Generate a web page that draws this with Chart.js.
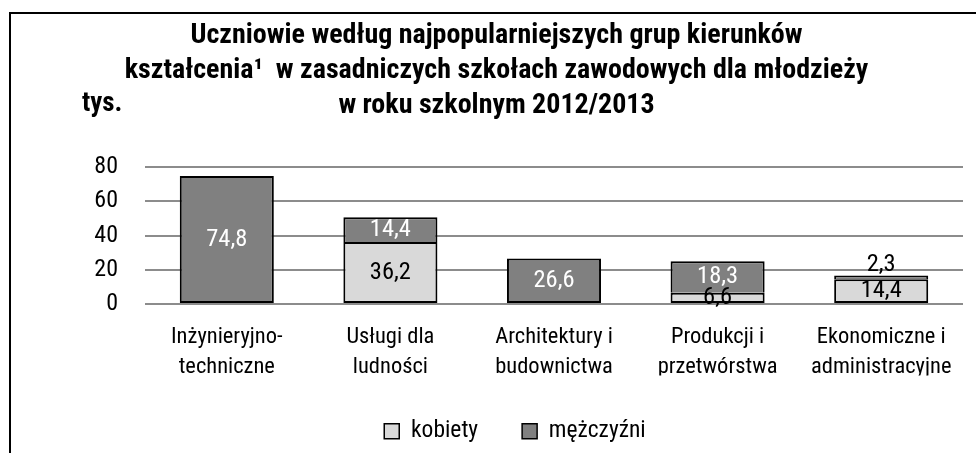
<!DOCTYPE html>
<html>
<head>
<meta charset="utf-8">
<script src="https://cdn.jsdelivr.net/npm/chart.js@4/dist/chart.umd.min.js"></script>
<style>
  body { margin: 0; background: #fff; }
  #wrap { position: relative; width: 976px; height: 453px; overflow: hidden; }
  #frame { position: absolute; left: 9px; top: 12px; width: 1000px; height: 500px; border: 2px solid #000; pointer-events: none; }
  canvas { position: absolute; left: 0; top: 0; }
</style>
</head>
<body>
<div id="wrap">
  <canvas id="c" width="976" height="453"></canvas>
  <div id="frame"></div>
</div>
<script>
// dane (tys.)
const categories = [
  ['Inżynieryjno-', 'techniczne'],
  ['Usługi dla', 'ludności'],
  ['Architektury i', 'budownictwa'],
  ['Produkcji i', 'przetwórstwa'],
  ['Ekonomiczne i', 'administracyjne']
];
const kobiety = [null, 36.2, null, 6.6, 14.4];
const mezczyzni = [74.8, 14.4, 26.6, 18.3, 2.3];
const yTicks = [0, 20, 40, 60, 80];

const FONT = "'Liberation Sans Narrow', 'Arial Narrow', 'Roboto Condensed', sans-serif";

// etykiety danych na słupkach
const valueLabels = {
  id: 'valueLabels',
  afterDatasetsDraw(chart) {
    const ctx = chart.ctx;
    ctx.save();
    ctx.font = '24.5px ' + FONT;
    ctx.textAlign = 'center';
    ctx.textBaseline = 'middle';
    chart.data.datasets.forEach((ds, i) => {
      const meta = chart.getDatasetMeta(i);
      meta.data.forEach((bar, j) => {
        const v = ds.data[j];
        if (v == null) return;
        const txt = v.toFixed(1).replace('.', ',');
        const h = Math.abs(bar.base - bar.y);
        let y = (bar.y + bar.base) / 2;
        let color = ds.labelColor;
        if (h < 8) { y = bar.y - 11; color = '#000'; }
        ctx.fillStyle = color;
        ctx.fillText(txt, bar.x, y);
      });
    });
    ctx.restore();
  }
};

// jednostka "tys." + przesunięcie tytułu i legendy
const extras = {
  id: 'extras',
  afterLayout(chart) {
    const t = chart.titleBlock;
    t.left += 15; t.right += 15;
    const lg = chart.legend;
    const d = 515 - (lg.left + lg.right) / 2;
    lg.left += d; lg.right += d;
  },
  afterDraw(chart) {
    const ctx = chart.ctx;
    ctx.save();
    ctx.font = 'bold 27px ' + FONT;
    ctx.fillStyle = '#000';
    ctx.textAlign = 'left';
    ctx.textBaseline = 'alphabetic';
    ctx.fillText('tys.', 82, 111);
    ctx.restore();
  }
};

// górny segment bez dolnej krawędzi, gdy pod nim jest drugi
function topBorder(ctx) {
  const k = kobiety[ctx.dataIndex];
  return { top: 2, left: 2, right: 2, bottom: k == null ? 2 : 0 };
}

new Chart(document.getElementById('c'), {
  type: 'bar',
  data: {
    labels: categories,
    datasets: [
      {
        label: 'kobiety',
        data: kobiety,
        backgroundColor: '#d9d9d9',
        borderColor: '#000',
        borderWidth: 2,
        borderSkipped: false,
        labelColor: '#000'
      },
      {
        label: 'mężczyźni',
        data: mezczyzni,
        backgroundColor: '#808080',
        borderColor: '#000',
        borderWidth: topBorder,
        borderSkipped: false,
        labelColor: '#fff'
      }
    ]
  },
  options: {
    responsive: false,
    animation: false,
    devicePixelRatio: 1,
    layout: { padding: { left: 0, right: 13, top: 0, bottom: 0 } },
    datasets: { bar: { barPercentage: 0.575, categoryPercentage: 1 } },
    scales: {
      x: {
        stacked: true,
        afterFit(scale) { scale.height = 71.5; },
        grid: { display: false, drawTicks: false },
        border: { display: false },
        ticks: {
          color: '#000',
          font: { family: FONT, size: 22.5, lineHeight: 1.35 },
          padding: 18,
          maxRotation: 0,
          autoSkip: false
        }
      },
      y: {
        stacked: true,
        min: 0,
        max: 80,
        afterFit(scale) { scale.width = 145; },
        afterBuildTicks(scale) { scale.ticks = yTicks.map(v => ({ value: v })); },
        grid: { color: '#8c8c8c', lineWidth: 2, drawTicks: false },
        border: { display: false },
        ticks: {
          color: '#000',
          font: { family: FONT, size: 24 },
          padding: 27
        }
      }
    },
    plugins: {
      title: {
        display: true,
        text: [
          'Uczniowie według najpopularniejszych grup kierunków',
          'kształcenia¹  w zasadniczych szkołach zawodowych dla młodzieży',
          'w roku szkolnym 2012/2013'
        ],
        color: '#000',
        font: { family: FONT, size: 28, weight: 'bold', lineHeight: 1.25 },
        padding: { top: 18.5, bottom: 43.5 }
      },
      legend: {
        position: 'bottom',
        labels: {
          color: '#000',
          font: { family: FONT, size: 23.5 },
          boxWidth: 15,
          boxHeight: 15,
          padding: 44,
          generateLabels(chart) {
            return chart.data.datasets.map((ds, i) => ({
              text: ds.label,
              fillStyle: ds.backgroundColor,
              strokeStyle: '#000',
              lineWidth: 1.5,
              datasetIndex: i,
              fontColor: '#000'
            }));
          }
        }
      },
      tooltip: { enabled: false }
    }
  },
  plugins: [valueLabels, extras]
});
</script>
</body>
</html>
